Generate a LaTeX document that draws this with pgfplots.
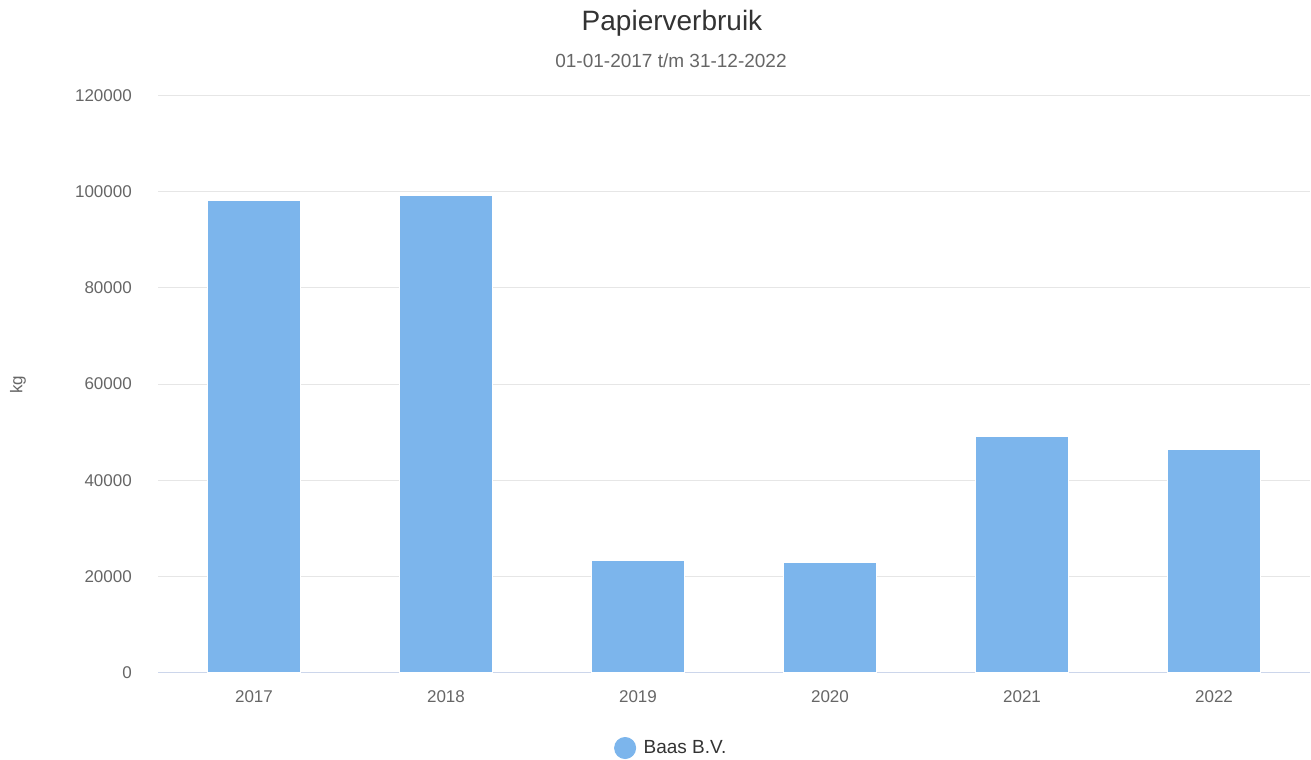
\documentclass[border=0pt]{standalone}
\usepackage{pgfplots}
\pgfplotsset{compat=1.18}
\usepackage{fontspec}
\setmainfont{Liberation Sans}
\definecolor{barblue}{HTML}{7CB5EC}
\definecolor{gridc}{HTML}{E6E6E6}
\definecolor{axisc}{HTML}{CCD6EB}
\definecolor{txtdark}{HTML}{333333}
\definecolor{txtlight}{HTML}{666666}
\begin{document}
\begin{tikzpicture}
\path[use as bounding box] (0bp,0bp) rectangle (1311bp,760bp);
\begin{axis}[
  at={(158bp,87.3bp)}, anchor=south west,
  scale only axis, width=1152bp, height=577.2bp,
  xmin=-0.5, xmax=5.5, ymin=0, ymax=120000,
  xtick={0,1,2,3,4,5},
  xticklabels={2017,2018,2019,2020,2021,2022},
  ytick={0,20000,40000,60000,80000,100000,120000},
  scaled ticks=false,
  /pgf/number format/assume math mode=true,
  /pgf/number format/fixed,
  /pgf/number format/1000 sep={},
  major tick length=0pt,
  axis lines*=left,
  y axis line style={draw=none},
  x axis line style={draw=axisc, line width=1bp, -},
  ymajorgrids,
  major grid style={draw=gridc, line width=1bp},
  tick label style={font=\fontsize{17bp}{20bp}\selectfont, text=txtlight},
  yticklabel style={inner sep=0pt, anchor=east, xshift=-26bp},
  xticklabel style={inner sep=0pt, anchor=north, yshift=-18bp},
  legend style={draw=none, fill=none, at={(0.4453,-0.1305)}, anchor=center,
    font=\fontsize{19bp}{22bp}\selectfont, text=txtdark},
  legend cell align=left,
  legend image code/.code={\path (-11bp,0bp) -- (16bp,0bp); \fill[barblue] (0bp,0bp) circle (10.5bp);},
]
\addplot[ybar, bar width=93bp, fill=barblue, draw=white, line width=1bp]
  coordinates {(0,98100) (1,99200) (2,23400) (3,22900) (4,49200) (5,46500)};
\addlegendentry{Baas B.V.}
\end{axis}
\node[anchor=base, text=txtdark, font=\fontsize{28bp}{32bp}\selectfont] at (672bp,729bp) {Papierverbruik};
\node[anchor=base, text=txtlight, font=\fontsize{19bp}{22bp}\selectfont] at (671bp,692.3bp) {01-01-2017 t/m 31-12-2022};
\node[rotate=90, text=txtlight, font=\fontsize{17bp}{20bp}\selectfont] at (18bp,375bp) {kg};
\end{tikzpicture}
\end{document}
